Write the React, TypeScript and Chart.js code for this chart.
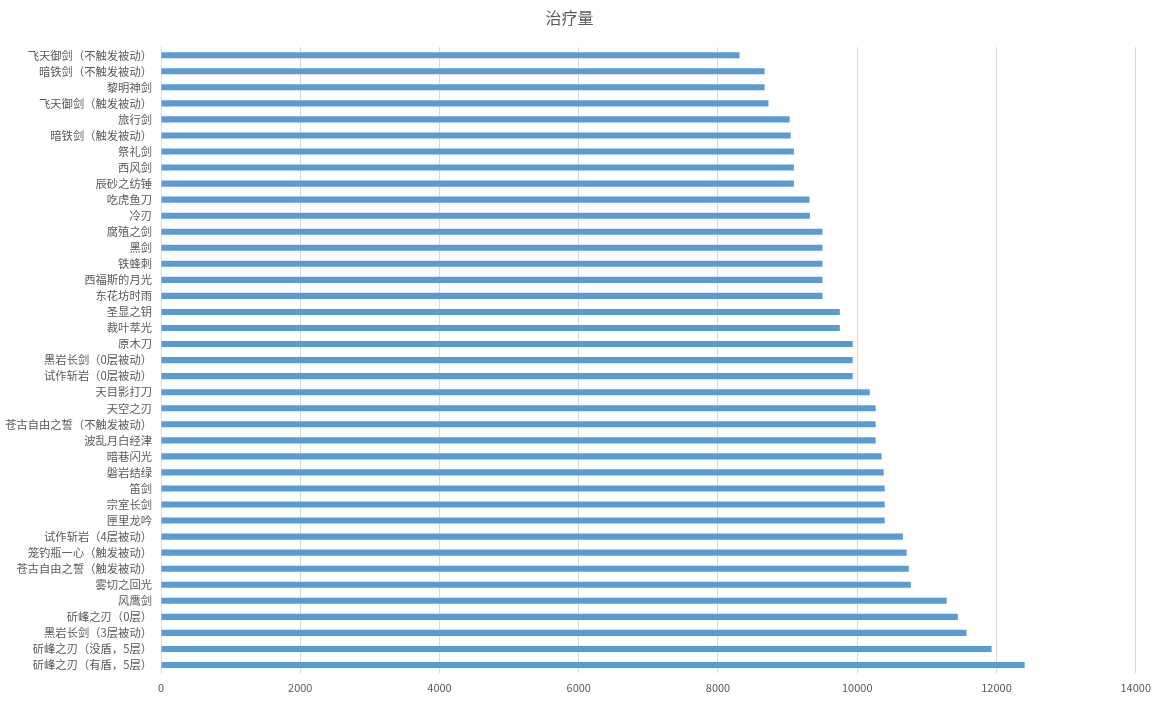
import React, { useEffect, useRef } from "react";
import { Chart, registerables } from "chart.js";

Chart.register(...registerables);

const title = "治疗量";

const categories = [
  "飞天御剑（不触发被动）",
  "暗铁剑（不触发被动）",
  "黎明神剑",
  "飞天御剑（触发被动）",
  "旅行剑",
  "暗铁剑（触发被动）",
  "祭礼剑",
  "西风剑",
  "辰砂之纺锤",
  "吃虎鱼刀",
  "冷刃",
  "腐殖之剑",
  "黑剑",
  "铁蜂刺",
  "西福斯的月光",
  "东花坊时雨",
  "圣显之钥",
  "裁叶萃光",
  "原木刀",
  "黑岩长剑（0层被动）",
  "试作斩岩（0层被动）",
  "天目影打刀",
  "天空之刃",
  "苍古自由之誓（不触发被动）",
  "波乱月白经津",
  "暗巷闪光",
  "磐岩结绿",
  "笛剑",
  "宗室长剑",
  "匣里龙吟",
  "试作斩岩（4层被动）",
  "笼钓瓶一心（触发被动）",
  "苍古自由之誓（触发被动）",
  "雾切之回光",
  "风鹰剑",
  "斫峰之刃（0层）",
  "黑岩长剑（3层被动）",
  "斫峰之刃（没盾，5层）",
  "斫峰之刃（有盾，5层）",
];

const healing = [
  8310, 8670, 8670, 8725, 9030, 9045, 9090, 9090, 9090, 9315,
  9320, 9500, 9500, 9500, 9500, 9500, 9750, 9750, 9935, 9935,
  9935, 10180, 10265, 10265, 10265, 10350, 10380, 10395, 10395, 10395,
  10655, 10710, 10740, 10770, 11285, 11445, 11570, 11930, 12405,
];

const xMin = 0;
const xMax = 14000;
const xStep = 2000;

export default function App() {
  const ref = useRef<HTMLCanvasElement | null>(null);

  useEffect(() => {
    document.body.style.margin = "0";
    if (!ref.current) return;
    const chart = new Chart(ref.current, {
      type: "bar",
      data: {
        labels: categories,
        datasets: [
          {
            label: title,
            data: healing,
            backgroundColor: "#5b9bd5",
            borderWidth: 0,
            barPercentage: 0.38,
            categoryPercentage: 1,
          },
        ],
      },
      options: {
        indexAxis: "y",
        animation: false,
        responsive: false,
        maintainAspectRatio: false,
        layout: { padding: { left: 0, right: 20, top: 0, bottom: 0 } },
        plugins: {
          legend: { display: false },
          tooltip: { enabled: false },
          title: {
            display: true,
            text: title,
            color: "#595959",
            font: { family: "'Noto Sans CJK SC', sans-serif", size: 16, weight: "normal" },
            padding: { top: 8, bottom: 20 },
          },
        },
        scales: {
          x: {
            min: xMin,
            max: xMax,
            ticks: {
              stepSize: xStep,
              color: "#595959",
              font: { family: "'Noto Sans CJK SC', sans-serif", size: 11 },
              padding: 8,
              callback: (v: any) => String(v),
            },
            grid: { color: "#d9d9d9", drawTicks: false },
            border: { display: false },
            afterFit: (s: any) => {
              s.height = 32;
            },
          },
          y: {
            ticks: {
              color: "#595959",
              font: { family: "'Noto Sans CJK SC', sans-serif", size: 11.3 },
              padding: 9,
              autoSkip: false,
            },
            grid: { display: false, drawTicks: false },
            border: { display: true, color: "#d9d9d9" },
            afterFit: (s: any) => {
              s.width = 161;
            },
          },
        },
      },
    });
    return () => chart.destroy();
  }, []);

  return (
    <div style={{ width: 1159, height: 705, background: "#fff" }}>
      <canvas ref={ref} width={1159} height={705} style={{ display: "block" }} />
    </div>
  );
}
